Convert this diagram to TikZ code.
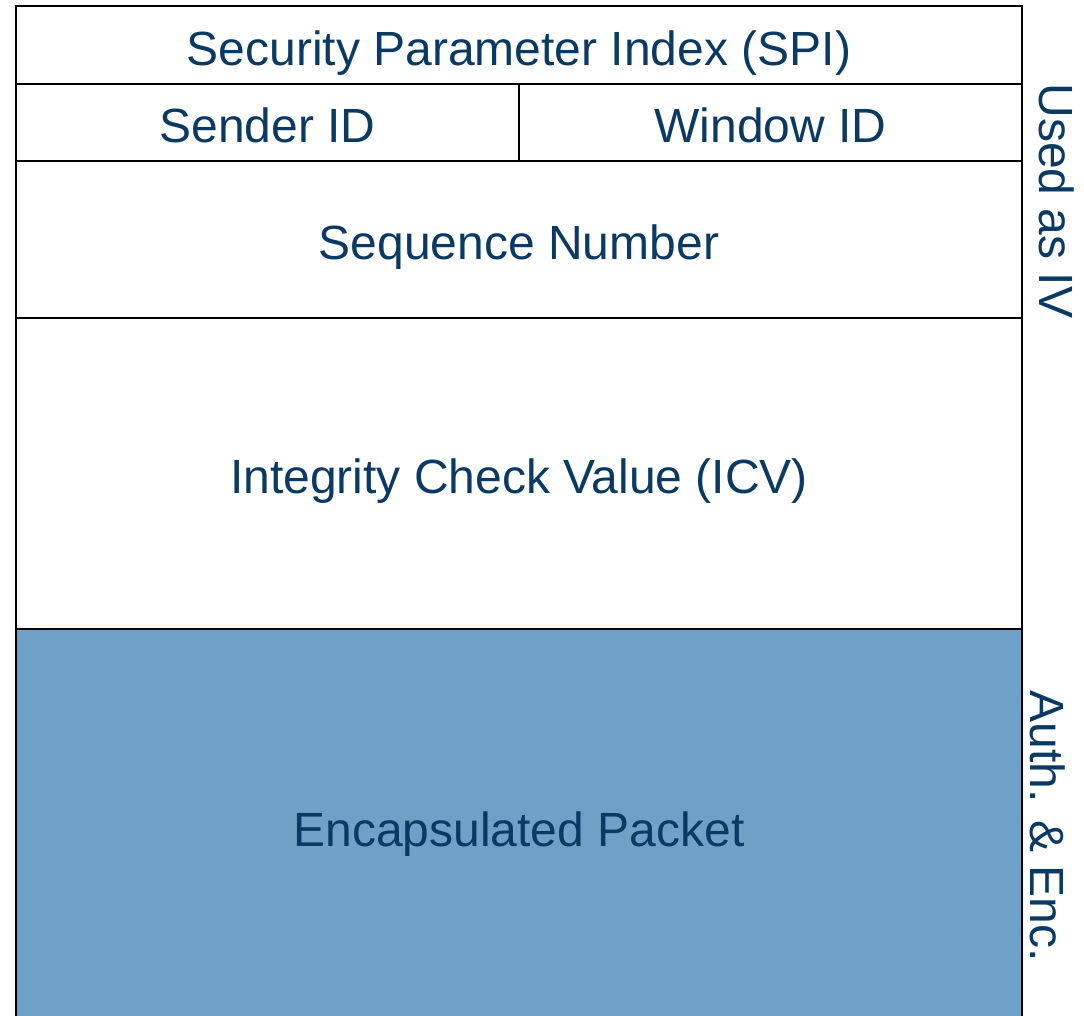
\documentclass[tikz,border=0pt]{standalone}
\usepackage{fontspec}
\setmainfont{Liberation Sans}
\usepackage{xcolor}
\usepackage{tikz}
\usetikzlibrary{calc}
\definecolor{hdrtext}{HTML}{0A3A64}
\definecolor{payload}{HTML}{6FA1C6}
\tikzstyle{field}=[draw=black, rectangle, line width=2.8pt, inner sep=0pt, outer sep=0pt,% header word
text=hdrtext, font=\fontsize{48}{58}\selectfont, text height=40pt, text depth=0pt, anchor=north west]
\tikzstyle{side}=[text=hdrtext, font=\fontsize{48}{58}\selectfont, rotate=-90, inner sep=0pt]
\begin{document}
\begin{tikzpicture}[x=1pt,y=-1pt]
\useasboundingbox (0,0) rectangle (1084,1015);
\node[field, fill=payload, minimum width=1006pt, minimum height=394pt] (pkt) at (16,629) {Encapsulated Packet};
\node[field, minimum width=1006pt, minimum height=78pt] (spi) at (16,6) {Security Parameter Index (SPI)};
\node[field, minimum width=503pt, minimum height=77pt] (sid) at (16,84) {Sender ID};
\node[field, minimum width=503pt, minimum height=77pt] (wid) at (519,84) {Window ID};
\node[field, minimum width=1006pt, minimum height=157pt] (seq) at (16,161) {Sequence Number};
\node[field, minimum width=1006pt, minimum height=311pt] (icv) at (16,318) {Integrity Check Value (ICV)};
%\node[side] (iv) at (1056,201) {Used as IV};
\node[side] (iv) at ($(wid.north east)!0.5!(seq.south east) + (35,0)$) {Used as IV};
\node[side] (enc) at ($(pkt.north east)!0.5!(pkt.south east) + (26,0)$) {Auth. \& Enc.};
\end{tikzpicture}
\end{document}
